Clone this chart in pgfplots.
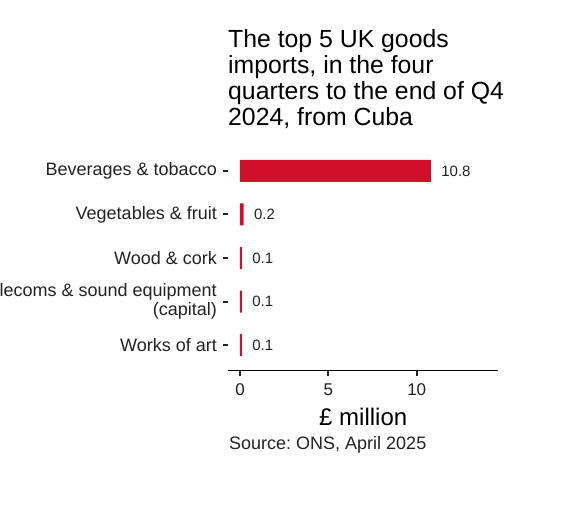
\documentclass[border=0pt]{standalone}
\usepackage{pgfplots}
\pgfplotsset{compat=1.18}
\usepackage{fontspec}
\setmainfont{Liberation Sans}
\definecolor{barred}{HTML}{D00F2B}
\definecolor{tickgray}{HTML}{222222}
\begin{document}
\frenchspacing
\begin{tikzpicture}[x=1pt,y=1pt]
\useasboundingbox (0,0) rectangle (566,509);
\clip (0,0) rectangle (566,509);
\node[anchor=north west, inner sep=0pt, align=left, font=\fontsize{24.8}{26.1}\selectfont] at (228,509-29)
 {The top 5 UK goods\\imports, in the four\\quarters to the end of Q4\\2024, from Cuba};
\begin{axis}[
  at={(228.5pt,138.3pt)}, anchor=south west,
  scale only axis, width=269.5pt, height=225.4pt,
  /pgf/number format/assume math mode=true,
  xbar, bar width=22pt,
  xmin=-0.65, xmax=14.6,
  ymin=-0.59, ymax=4.59, y dir=reverse,
  axis x line*=bottom, axis y line*=left,
  x axis line style={-, line width=1.3pt, black},
  y axis line style={draw=none},
  xtick={0,5,10},
  ytick={0,1,2,3,4},
  yticklabels={Beverages \& tobacco, Vegetables \& fruit, Wood \& cork, {Telecoms \& sound equipment\\(capital)}, Works of art},
  tick align=outside,
  major tick length=5.5pt,
  tick style={line width=2pt, tickgray},
  x tick label style={font=\fontsize{17}{18}\selectfont, text=tickgray, yshift=-4pt},
  y tick label style={font=\fontsize{18}{19.5}\selectfont, text=tickgray, align=right, inner sep=0pt, xshift=-6pt},
  xlabel={\pounds\ million},
  xlabel style={font=\fontsize{24}{26}\selectfont, yshift=-5pt},
  nodes near coords={\pgfmathprintnumber[fixed,precision=1,fixed zerofill]{\pgfplotspointmeta}},
  nodes near coords align={horizontal},
  every node near coord/.append style={font=\fontsize{15}{15}\selectfont, text=tickgray, anchor=west, xshift=7pt},
]
\addplot[fill=barred, draw=none] coordinates {(10.8,0) (0.2,1) (0.1,2) (0.1,3) (0.1,4)};
\end{axis}
\node[anchor=base west, inner sep=0pt, font=\fontsize{18}{20}\selectfont, text=tickgray] at (229,509-450) {Source: ONS, April 2025};
\end{tikzpicture}
\end{document}
